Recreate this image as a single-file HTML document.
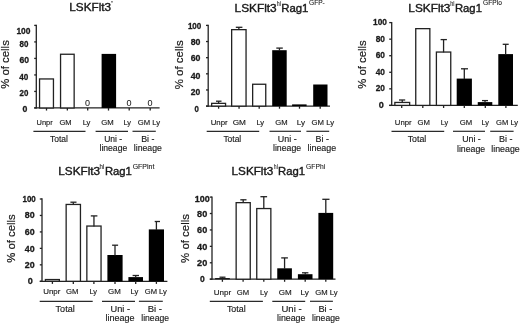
<!DOCTYPE html>
<html><head><meta charset="utf-8"><title>Figure</title>
<style>
html,body{margin:0;padding:0;background:#fff;}
body{width:520px;height:323px;overflow:hidden;}
svg{display:block;font-family:"Liberation Sans", sans-serif;}
svg{will-change:transform;}
</style></head>
<body>
<svg width="520" height="323" viewBox="0 0 520 323">
<rect width="520" height="323" fill="#fff"/>
<text x="90.2" y="11.2" font-size="11" text-anchor="middle" textLength="41.72" lengthAdjust="spacingAndGlyphs" fill="#1a1a1a" stroke="#1a1a1a" stroke-width="0.4">LSKFlt3</text>
<rect x="111.1" y="1.3" width="1.7" height="1.1" fill="#444"/>
<text transform="translate(9.3,64.45) rotate(-90)" x="0" y="0" font-size="11.5" text-anchor="middle" textLength="48.5" lengthAdjust="spacingAndGlyphs" fill="#1a1a1a" stroke="#1a1a1a" stroke-width="0.2">% of cells</text>
<line x1="36.3" y1="24.75" x2="36.3" y2="108.6" stroke="#222" stroke-width="1.3"/>
<line x1="34.2" y1="25.4" x2="36.3" y2="25.4" stroke="#222" stroke-width="1.3"/>
<line x1="34.2" y1="41.91" x2="36.3" y2="41.91" stroke="#222" stroke-width="1.3"/>
<line x1="34.2" y1="58.42" x2="36.3" y2="58.42" stroke="#222" stroke-width="1.3"/>
<line x1="34.2" y1="74.93" x2="36.3" y2="74.93" stroke="#222" stroke-width="1.3"/>
<line x1="34.2" y1="91.44" x2="36.3" y2="91.44" stroke="#222" stroke-width="1.3"/>
<line x1="34.2" y1="107.95" x2="36.3" y2="107.95" stroke="#222" stroke-width="1.3"/>
<text x="23.48" y="34" font-size="9" font-weight="bold" text-anchor="middle" textLength="14.1" lengthAdjust="spacingAndGlyphs" fill="#1a1a1a" stroke="#1a1a1a" stroke-width="0.3">100</text>
<text x="23.9" y="46.8" font-size="9" font-weight="bold" text-anchor="middle" textLength="8.85" lengthAdjust="spacingAndGlyphs" fill="#1a1a1a" stroke="#1a1a1a" stroke-width="0.3">80</text>
<text x="24.3" y="63.4" font-size="9" font-weight="bold" text-anchor="middle" textLength="9.55" lengthAdjust="spacingAndGlyphs" fill="#1a1a1a" stroke="#1a1a1a" stroke-width="0.3">60</text>
<text x="23.8" y="79.9" font-size="9" font-weight="bold" text-anchor="middle" textLength="9.05" lengthAdjust="spacingAndGlyphs" fill="#1a1a1a" stroke="#1a1a1a" stroke-width="0.3">40</text>
<text x="23.93" y="95.5" font-size="9" font-weight="bold" text-anchor="middle" textLength="8.8" lengthAdjust="spacingAndGlyphs" fill="#1a1a1a" stroke="#1a1a1a" stroke-width="0.3">20</text>
<text x="24.9" y="112.2" font-size="9" font-weight="bold" text-anchor="middle" textLength="4.85" lengthAdjust="spacingAndGlyphs" fill="#1a1a1a" stroke="#1a1a1a" stroke-width="0.3">0</text>
<line x1="34.2" y1="107.95" x2="159.6" y2="107.95" stroke="#222" stroke-width="1.3"/>
<rect x="39.55" y="78.95" width="13.9" height="29" fill="#fff" stroke="#222" stroke-width="1.3"/>
<rect x="60.55" y="54.25" width="13.6" height="53.7" fill="#fff" stroke="#222" stroke-width="1.3"/>
<rect x="101.6" y="53.9" width="14.5" height="54.05" fill="#000"/>
<line x1="46.5" y1="107.95" x2="46.5" y2="110.55" stroke="#222" stroke-width="1.3"/>
<line x1="67.35" y1="107.95" x2="67.35" y2="110.55" stroke="#222" stroke-width="1.3"/>
<line x1="87.7" y1="107.95" x2="87.7" y2="110.55" stroke="#222" stroke-width="1.3"/>
<line x1="108.5" y1="107.95" x2="108.5" y2="110.55" stroke="#222" stroke-width="1.3"/>
<line x1="129.2" y1="107.95" x2="129.2" y2="110.55" stroke="#222" stroke-width="1.3"/>
<line x1="150.2" y1="107.95" x2="150.2" y2="110.55" stroke="#222" stroke-width="1.3"/>
<text x="87.45" y="106" font-size="8.5" text-anchor="middle" textLength="5.02" lengthAdjust="spacingAndGlyphs" fill="#1a1a1a" stroke="#1a1a1a" stroke-width="0.05">0</text>
<text x="129" y="106" font-size="8.5" text-anchor="middle" textLength="5.02" lengthAdjust="spacingAndGlyphs" fill="#1a1a1a" stroke="#1a1a1a" stroke-width="0.05">0</text>
<text x="150" y="106" font-size="8.5" text-anchor="middle" textLength="5.02" lengthAdjust="spacingAndGlyphs" fill="#1a1a1a" stroke="#1a1a1a" stroke-width="0.05">0</text>
<text x="44.65" y="124.6" font-size="8" text-anchor="middle" textLength="16.14" lengthAdjust="spacingAndGlyphs" fill="#1a1a1a" stroke="#1a1a1a" stroke-width="0.15">Unpr</text>
<text x="65.55" y="124.6" font-size="8" text-anchor="middle" textLength="12.14" lengthAdjust="spacingAndGlyphs" fill="#1a1a1a" stroke="#1a1a1a" stroke-width="0.15">GM</text>
<text x="86.55" y="124.6" font-size="8" text-anchor="middle" textLength="7.74" lengthAdjust="spacingAndGlyphs" fill="#1a1a1a" stroke="#1a1a1a" stroke-width="0.15">Ly</text>
<text x="107.5" y="124.6" font-size="8" text-anchor="middle" textLength="12.44" lengthAdjust="spacingAndGlyphs" fill="#1a1a1a" stroke="#1a1a1a" stroke-width="0.15">GM</text>
<text x="127.15" y="124.6" font-size="8" text-anchor="middle" textLength="7.54" lengthAdjust="spacingAndGlyphs" fill="#1a1a1a" stroke="#1a1a1a" stroke-width="0.15">Ly</text>
<text x="148.85" y="124.6" font-size="8" text-anchor="middle" textLength="22.34" lengthAdjust="spacingAndGlyphs" fill="#1a1a1a" stroke="#1a1a1a" stroke-width="0.15">GM Ly</text>
<line x1="33.4" y1="131.3" x2="85.5" y2="131.3" stroke="#2a2a2a" stroke-width="1.2"/>
<line x1="95.6" y1="131.3" x2="128" y2="131.3" stroke="#2a2a2a" stroke-width="1.2"/>
<line x1="132.5" y1="131.3" x2="155.8" y2="131.3" stroke="#2a2a2a" stroke-width="1.2"/>
<text x="58.95" y="142" font-size="9" text-anchor="middle" textLength="17.95" lengthAdjust="spacingAndGlyphs" fill="#1a1a1a" stroke="#1a1a1a" stroke-width="0.15">Total</text>
<text x="113.15" y="142" font-size="9" text-anchor="middle" textLength="17.95" lengthAdjust="spacingAndGlyphs" fill="#1a1a1a" stroke="#1a1a1a" stroke-width="0.15">Uni -</text>
<text x="113.35" y="151.4" font-size="9" text-anchor="middle" textLength="27.75" lengthAdjust="spacingAndGlyphs" fill="#1a1a1a" stroke="#1a1a1a" stroke-width="0.15">lineage</text>
<text x="147.8" y="142" font-size="9" text-anchor="middle" textLength="13.25" lengthAdjust="spacingAndGlyphs" fill="#1a1a1a" stroke="#1a1a1a" stroke-width="0.15">Bi -</text>
<text x="147.8" y="151.4" font-size="9" text-anchor="middle" textLength="28.05" lengthAdjust="spacingAndGlyphs" fill="#1a1a1a" stroke="#1a1a1a" stroke-width="0.15">lineage</text>
<text x="255.62" y="11.5" font-size="11" text-anchor="middle" textLength="42.07" lengthAdjust="spacingAndGlyphs" fill="#1a1a1a" stroke="#1a1a1a" stroke-width="0.4">LSKFlt3</text>
<text x="278.93" y="6.2" font-size="6.5" text-anchor="middle" textLength="4.13" lengthAdjust="spacingAndGlyphs" fill="#1a1a1a" stroke="#1a1a1a" stroke-width="0.1">hi</text>
<text x="294.82" y="11.5" font-size="11" text-anchor="middle" textLength="27.17" lengthAdjust="spacingAndGlyphs" fill="#1a1a1a" stroke="#1a1a1a" stroke-width="0.4">Rag1</text>
<text x="316.9" y="4.9" font-size="6.5" text-anchor="middle" textLength="15.78" lengthAdjust="spacingAndGlyphs" fill="#1a1a1a" stroke="#1a1a1a" stroke-width="0.1">GFP-</text>
<text transform="translate(182.5,64.8) rotate(-90)" x="0" y="0" font-size="11.5" text-anchor="middle" textLength="49" lengthAdjust="spacingAndGlyphs" fill="#1a1a1a" stroke="#1a1a1a" stroke-width="0.2">% of cells</text>
<line x1="208.2" y1="24.75" x2="208.2" y2="106.75" stroke="#222" stroke-width="1.3"/>
<line x1="206" y1="25.4" x2="208.2" y2="25.4" stroke="#222" stroke-width="1.3"/>
<line x1="206" y1="41.54" x2="208.2" y2="41.54" stroke="#222" stroke-width="1.3"/>
<line x1="206" y1="57.68" x2="208.2" y2="57.68" stroke="#222" stroke-width="1.3"/>
<line x1="206" y1="73.82" x2="208.2" y2="73.82" stroke="#222" stroke-width="1.3"/>
<line x1="206" y1="89.96" x2="208.2" y2="89.96" stroke="#222" stroke-width="1.3"/>
<line x1="206" y1="106.1" x2="208.2" y2="106.1" stroke="#222" stroke-width="1.3"/>
<text x="194.6" y="28.5" font-size="9" font-weight="bold" text-anchor="middle" textLength="13.45" lengthAdjust="spacingAndGlyphs" fill="#1a1a1a" stroke="#1a1a1a" stroke-width="0.3">100</text>
<text x="195.55" y="45.1" font-size="9" font-weight="bold" text-anchor="middle" textLength="9.75" lengthAdjust="spacingAndGlyphs" fill="#1a1a1a" stroke="#1a1a1a" stroke-width="0.3">80</text>
<text x="195.55" y="61" font-size="9" font-weight="bold" text-anchor="middle" textLength="9.75" lengthAdjust="spacingAndGlyphs" fill="#1a1a1a" stroke="#1a1a1a" stroke-width="0.3">60</text>
<text x="195.55" y="78.7" font-size="9" font-weight="bold" text-anchor="middle" textLength="9.75" lengthAdjust="spacingAndGlyphs" fill="#1a1a1a" stroke="#1a1a1a" stroke-width="0.3">40</text>
<text x="195.5" y="95.3" font-size="9" font-weight="bold" text-anchor="middle" textLength="9.45" lengthAdjust="spacingAndGlyphs" fill="#1a1a1a" stroke="#1a1a1a" stroke-width="0.3">20</text>
<text x="196.55" y="111.5" font-size="9" font-weight="bold" text-anchor="middle" textLength="4.35" lengthAdjust="spacingAndGlyphs" fill="#1a1a1a" stroke="#1a1a1a" stroke-width="0.3">0</text>
<line x1="206" y1="106.1" x2="330" y2="106.1" stroke="#222" stroke-width="1.3"/>
<rect x="211.65" y="103.35" width="13.9" height="2.75" fill="#fff" stroke="#222" stroke-width="1.3"/>
<line x1="218.6" y1="101.2" x2="218.6" y2="103.7" stroke="#222" stroke-width="1.3"/>
<line x1="216" y1="101.2" x2="221.5" y2="101.2" stroke="#222" stroke-width="1.3"/>
<rect x="231.65" y="29.65" width="14.4" height="76.45" fill="#fff" stroke="#222" stroke-width="1.3"/>
<line x1="238.85" y1="27.3" x2="238.85" y2="30" stroke="#222" stroke-width="1.3"/>
<line x1="235.8" y1="27.3" x2="242.4" y2="27.3" stroke="#222" stroke-width="1.3"/>
<rect x="252.65" y="84.25" width="13.1" height="21.85" fill="#fff" stroke="#222" stroke-width="1.3"/>
<rect x="272.2" y="50.2" width="14.5" height="55.9" fill="#000"/>
<line x1="279.45" y1="48.1" x2="279.45" y2="50.7" stroke="#222" stroke-width="1.3"/>
<line x1="276.3" y1="48.1" x2="282.8" y2="48.1" stroke="#222" stroke-width="1.3"/>
<rect x="292.1" y="104.4" width="14.5" height="1.7" fill="#000"/>
<rect x="313.2" y="84.5" width="14.3" height="21.6" fill="#000"/>
<line x1="218.6" y1="106.1" x2="218.6" y2="108.7" stroke="#222" stroke-width="1.3"/>
<line x1="239.05" y1="106.1" x2="239.05" y2="108.7" stroke="#222" stroke-width="1.3"/>
<line x1="259.2" y1="106.1" x2="259.2" y2="108.7" stroke="#222" stroke-width="1.3"/>
<line x1="279.5" y1="106.1" x2="279.5" y2="108.7" stroke="#222" stroke-width="1.3"/>
<line x1="299.5" y1="106.1" x2="299.5" y2="108.7" stroke="#222" stroke-width="1.3"/>
<line x1="320.2" y1="106.1" x2="320.2" y2="108.7" stroke="#222" stroke-width="1.3"/>
<text x="219.15" y="124.9" font-size="8" text-anchor="middle" textLength="16.94" lengthAdjust="spacingAndGlyphs" fill="#1a1a1a" stroke="#1a1a1a" stroke-width="0.15">Unpr</text>
<text x="239.3" y="124.9" font-size="8" text-anchor="middle" textLength="13.24" lengthAdjust="spacingAndGlyphs" fill="#1a1a1a" stroke="#1a1a1a" stroke-width="0.15">GM</text>
<text x="260.25" y="124.9" font-size="8" text-anchor="middle" textLength="7.74" lengthAdjust="spacingAndGlyphs" fill="#1a1a1a" stroke="#1a1a1a" stroke-width="0.15">Ly</text>
<text x="281.45" y="124.9" font-size="8" text-anchor="middle" textLength="12.34" lengthAdjust="spacingAndGlyphs" fill="#1a1a1a" stroke="#1a1a1a" stroke-width="0.15">GM</text>
<text x="301" y="124.9" font-size="8" text-anchor="middle" textLength="8.24" lengthAdjust="spacingAndGlyphs" fill="#1a1a1a" stroke="#1a1a1a" stroke-width="0.15">Ly</text>
<text x="322.85" y="124.9" font-size="8" text-anchor="middle" textLength="22.54" lengthAdjust="spacingAndGlyphs" fill="#1a1a1a" stroke="#1a1a1a" stroke-width="0.15">GM Ly</text>
<line x1="206.7" y1="131.3" x2="259.2" y2="131.3" stroke="#2a2a2a" stroke-width="1.2"/>
<line x1="269.5" y1="131.3" x2="301" y2="131.3" stroke="#2a2a2a" stroke-width="1.2"/>
<line x1="306.4" y1="131.3" x2="329.2" y2="131.3" stroke="#2a2a2a" stroke-width="1.2"/>
<text x="232.3" y="141.8" font-size="9" text-anchor="middle" textLength="17.85" lengthAdjust="spacingAndGlyphs" fill="#1a1a1a" stroke="#1a1a1a" stroke-width="0.15">Total</text>
<text x="287.2" y="141.8" font-size="9" text-anchor="middle" textLength="18.85" lengthAdjust="spacingAndGlyphs" fill="#1a1a1a" stroke="#1a1a1a" stroke-width="0.15">Uni -</text>
<text x="287.1" y="151.2" font-size="9" text-anchor="middle" textLength="28.25" lengthAdjust="spacingAndGlyphs" fill="#1a1a1a" stroke="#1a1a1a" stroke-width="0.15">lineage</text>
<text x="322.25" y="141.8" font-size="9" text-anchor="middle" textLength="13.35" lengthAdjust="spacingAndGlyphs" fill="#1a1a1a" stroke="#1a1a1a" stroke-width="0.15">Bi -</text>
<text x="321.85" y="151.2" font-size="9" text-anchor="middle" textLength="28.75" lengthAdjust="spacingAndGlyphs" fill="#1a1a1a" stroke="#1a1a1a" stroke-width="0.15">lineage</text>
<text x="429.38" y="11.5" font-size="11" text-anchor="middle" textLength="42.07" lengthAdjust="spacingAndGlyphs" fill="#1a1a1a" stroke="#1a1a1a" stroke-width="0.4">LSKFlt3</text>
<text x="452.3" y="5.5" font-size="6.5" text-anchor="middle" textLength="4.18" lengthAdjust="spacingAndGlyphs" fill="#1a1a1a" stroke="#1a1a1a" stroke-width="0.1">hi</text>
<text x="468.43" y="11.5" font-size="11" text-anchor="middle" textLength="26.97" lengthAdjust="spacingAndGlyphs" fill="#1a1a1a" stroke="#1a1a1a" stroke-width="0.4">Rag1</text>
<text x="492.5" y="5" font-size="6.5" text-anchor="middle" textLength="18.78" lengthAdjust="spacingAndGlyphs" fill="#1a1a1a" stroke="#1a1a1a" stroke-width="0.1">GFPlo</text>
<text transform="translate(366.1,64.55) rotate(-90)" x="0" y="0" font-size="11.5" text-anchor="middle" textLength="48.5" lengthAdjust="spacingAndGlyphs" fill="#1a1a1a" stroke="#1a1a1a" stroke-width="0.2">% of cells</text>
<line x1="391.7" y1="21.95" x2="391.7" y2="106.05" stroke="#222" stroke-width="1.3"/>
<line x1="389.2" y1="22.6" x2="391.7" y2="22.6" stroke="#222" stroke-width="1.3"/>
<line x1="389.2" y1="39.16" x2="391.7" y2="39.16" stroke="#222" stroke-width="1.3"/>
<line x1="389.2" y1="55.72" x2="391.7" y2="55.72" stroke="#222" stroke-width="1.3"/>
<line x1="389.2" y1="72.28" x2="391.7" y2="72.28" stroke="#222" stroke-width="1.3"/>
<line x1="389.2" y1="88.84" x2="391.7" y2="88.84" stroke="#222" stroke-width="1.3"/>
<line x1="389.2" y1="105.4" x2="391.7" y2="105.4" stroke="#222" stroke-width="1.3"/>
<text x="380" y="25.2" font-size="9" font-weight="bold" text-anchor="middle" textLength="13.85" lengthAdjust="spacingAndGlyphs" fill="#1a1a1a" stroke="#1a1a1a" stroke-width="0.3">100</text>
<text x="380.3" y="41.9" font-size="9" font-weight="bold" text-anchor="middle" textLength="9.25" lengthAdjust="spacingAndGlyphs" fill="#1a1a1a" stroke="#1a1a1a" stroke-width="0.3">80</text>
<text x="380.3" y="58.2" font-size="9" font-weight="bold" text-anchor="middle" textLength="9.25" lengthAdjust="spacingAndGlyphs" fill="#1a1a1a" stroke="#1a1a1a" stroke-width="0.3">60</text>
<text x="380.3" y="74.6" font-size="9" font-weight="bold" text-anchor="middle" textLength="9.25" lengthAdjust="spacingAndGlyphs" fill="#1a1a1a" stroke="#1a1a1a" stroke-width="0.3">40</text>
<text x="380.3" y="91.4" font-size="9" font-weight="bold" text-anchor="middle" textLength="9.25" lengthAdjust="spacingAndGlyphs" fill="#1a1a1a" stroke="#1a1a1a" stroke-width="0.3">20</text>
<text x="381.3" y="108.1" font-size="9" font-weight="bold" text-anchor="middle" textLength="5.05" lengthAdjust="spacingAndGlyphs" fill="#1a1a1a" stroke="#1a1a1a" stroke-width="0.3">0</text>
<line x1="389.2" y1="105.4" x2="517.8" y2="105.4" stroke="#222" stroke-width="1.3"/>
<rect x="394.85" y="102.45" width="14.8" height="2.95" fill="#fff" stroke="#222" stroke-width="1.3"/>
<line x1="402.25" y1="100" x2="402.25" y2="102.8" stroke="#222" stroke-width="1.3"/>
<line x1="399" y1="100" x2="405.2" y2="100" stroke="#222" stroke-width="1.3"/>
<rect x="415.75" y="28.65" width="14.1" height="76.75" fill="#fff" stroke="#222" stroke-width="1.3"/>
<rect x="436.4" y="52.05" width="14.35" height="53.35" fill="#fff" stroke="#222" stroke-width="1.3"/>
<line x1="443.57" y1="39.6" x2="443.57" y2="52.4" stroke="#222" stroke-width="1.3"/>
<line x1="440.6" y1="39.6" x2="446.9" y2="39.6" stroke="#222" stroke-width="1.3"/>
<rect x="456.7" y="78.6" width="15.2" height="26.8" fill="#000"/>
<line x1="464.3" y1="68.8" x2="464.3" y2="79.1" stroke="#222" stroke-width="1.3"/>
<line x1="461" y1="68.8" x2="468" y2="68.8" stroke="#222" stroke-width="1.3"/>
<rect x="477.75" y="102.1" width="14.55" height="3.3" fill="#000"/>
<line x1="485.02" y1="100.6" x2="485.02" y2="102.6" stroke="#222" stroke-width="1.3"/>
<line x1="482" y1="100.6" x2="488" y2="100.6" stroke="#222" stroke-width="1.3"/>
<rect x="498.3" y="54.1" width="14.7" height="51.3" fill="#000"/>
<line x1="505.65" y1="44.3" x2="505.65" y2="54.6" stroke="#222" stroke-width="1.3"/>
<line x1="502.7" y1="44.3" x2="508.7" y2="44.3" stroke="#222" stroke-width="1.3"/>
<line x1="401.7" y1="105.4" x2="401.7" y2="108" stroke="#222" stroke-width="1.3"/>
<line x1="422.8" y1="105.4" x2="422.8" y2="108" stroke="#222" stroke-width="1.3"/>
<line x1="443.6" y1="105.4" x2="443.6" y2="108" stroke="#222" stroke-width="1.3"/>
<line x1="464.3" y1="105.4" x2="464.3" y2="108" stroke="#222" stroke-width="1.3"/>
<line x1="485.3" y1="105.4" x2="485.3" y2="108" stroke="#222" stroke-width="1.3"/>
<line x1="505.9" y1="105.4" x2="505.9" y2="108" stroke="#222" stroke-width="1.3"/>
<text x="403.2" y="124.8" font-size="8" text-anchor="middle" textLength="16.84" lengthAdjust="spacingAndGlyphs" fill="#1a1a1a" stroke="#1a1a1a" stroke-width="0.15">Unpr</text>
<text x="423.6" y="124.8" font-size="8" text-anchor="middle" textLength="12.44" lengthAdjust="spacingAndGlyphs" fill="#1a1a1a" stroke="#1a1a1a" stroke-width="0.15">GM</text>
<text x="444.35" y="124.8" font-size="8" text-anchor="middle" textLength="7.34" lengthAdjust="spacingAndGlyphs" fill="#1a1a1a" stroke="#1a1a1a" stroke-width="0.15">Ly</text>
<text x="465.9" y="124.8" font-size="8" text-anchor="middle" textLength="12.44" lengthAdjust="spacingAndGlyphs" fill="#1a1a1a" stroke="#1a1a1a" stroke-width="0.15">GM</text>
<text x="485.25" y="124.8" font-size="8" text-anchor="middle" textLength="7.54" lengthAdjust="spacingAndGlyphs" fill="#1a1a1a" stroke="#1a1a1a" stroke-width="0.15">Ly</text>
<text x="507.1" y="124.8" font-size="8" text-anchor="middle" textLength="22.04" lengthAdjust="spacingAndGlyphs" fill="#1a1a1a" stroke="#1a1a1a" stroke-width="0.15">GM Ly</text>
<line x1="391.5" y1="131.3" x2="444.2" y2="131.3" stroke="#2a2a2a" stroke-width="1.2"/>
<line x1="453" y1="131.3" x2="485" y2="131.3" stroke="#2a2a2a" stroke-width="1.2"/>
<line x1="490.2" y1="131.3" x2="513.6" y2="131.3" stroke="#2a2a2a" stroke-width="1.2"/>
<text x="416.95" y="142.1" font-size="9" text-anchor="middle" textLength="18.55" lengthAdjust="spacingAndGlyphs" fill="#1a1a1a" stroke="#1a1a1a" stroke-width="0.15">Total</text>
<text x="471.5" y="142.1" font-size="9" text-anchor="middle" textLength="18.65" lengthAdjust="spacingAndGlyphs" fill="#1a1a1a" stroke="#1a1a1a" stroke-width="0.15">Uni -</text>
<text x="471.1" y="151.5" font-size="9" text-anchor="middle" textLength="28.25" lengthAdjust="spacingAndGlyphs" fill="#1a1a1a" stroke="#1a1a1a" stroke-width="0.15">lineage</text>
<text x="505.8" y="142.1" font-size="9" text-anchor="middle" textLength="13.45" lengthAdjust="spacingAndGlyphs" fill="#1a1a1a" stroke="#1a1a1a" stroke-width="0.15">Bi -</text>
<text x="505.5" y="151.5" font-size="9" text-anchor="middle" textLength="28.45" lengthAdjust="spacingAndGlyphs" fill="#1a1a1a" stroke="#1a1a1a" stroke-width="0.15">lineage</text>
<text x="79.2" y="174.75" font-size="11" text-anchor="middle" textLength="41.72" lengthAdjust="spacingAndGlyphs" fill="#1a1a1a" stroke="#1a1a1a" stroke-width="0.4">LSKFlt3</text>
<text x="102" y="168.9" font-size="6.5" text-anchor="middle" textLength="4.78" lengthAdjust="spacingAndGlyphs" fill="#1a1a1a" stroke="#1a1a1a" stroke-width="0.1">hi</text>
<text x="118.42" y="174.75" font-size="11" text-anchor="middle" textLength="26.97" lengthAdjust="spacingAndGlyphs" fill="#1a1a1a" stroke="#1a1a1a" stroke-width="0.4">Rag1</text>
<text x="143.55" y="168.5" font-size="6.5" text-anchor="middle" textLength="21.68" lengthAdjust="spacingAndGlyphs" fill="#1a1a1a" stroke="#1a1a1a" stroke-width="0.1">GFPint</text>
<text transform="translate(15.1,238.6) rotate(-90)" x="0" y="0" font-size="11.5" text-anchor="middle" textLength="48.4" lengthAdjust="spacingAndGlyphs" fill="#1a1a1a" stroke="#1a1a1a" stroke-width="0.2">% of cells</text>
<line x1="42" y1="198.35" x2="42" y2="281.95" stroke="#222" stroke-width="1.3"/>
<line x1="39.8" y1="199" x2="42" y2="199" stroke="#222" stroke-width="1.3"/>
<line x1="39.8" y1="215.46" x2="42" y2="215.46" stroke="#222" stroke-width="1.3"/>
<line x1="39.8" y1="231.92" x2="42" y2="231.92" stroke="#222" stroke-width="1.3"/>
<line x1="39.8" y1="248.38" x2="42" y2="248.38" stroke="#222" stroke-width="1.3"/>
<line x1="39.8" y1="264.84" x2="42" y2="264.84" stroke="#222" stroke-width="1.3"/>
<line x1="39.8" y1="281.3" x2="42" y2="281.3" stroke="#222" stroke-width="1.3"/>
<text x="29.15" y="201.7" font-size="9" font-weight="bold" text-anchor="middle" textLength="13.35" lengthAdjust="spacingAndGlyphs" fill="#1a1a1a" stroke="#1a1a1a" stroke-width="0.3">100</text>
<text x="29.7" y="218.2" font-size="9" font-weight="bold" text-anchor="middle" textLength="9.85" lengthAdjust="spacingAndGlyphs" fill="#1a1a1a" stroke="#1a1a1a" stroke-width="0.3">80</text>
<text x="29.7" y="234.7" font-size="9" font-weight="bold" text-anchor="middle" textLength="9.85" lengthAdjust="spacingAndGlyphs" fill="#1a1a1a" stroke="#1a1a1a" stroke-width="0.3">60</text>
<text x="29.7" y="251.7" font-size="9" font-weight="bold" text-anchor="middle" textLength="9.85" lengthAdjust="spacingAndGlyphs" fill="#1a1a1a" stroke="#1a1a1a" stroke-width="0.3">40</text>
<text x="29.7" y="267.9" font-size="9" font-weight="bold" text-anchor="middle" textLength="9.85" lengthAdjust="spacingAndGlyphs" fill="#1a1a1a" stroke="#1a1a1a" stroke-width="0.3">20</text>
<text x="30.2" y="284.1" font-size="9" font-weight="bold" text-anchor="middle" textLength="5.05" lengthAdjust="spacingAndGlyphs" fill="#1a1a1a" stroke="#1a1a1a" stroke-width="0.3">0</text>
<line x1="39.8" y1="281.3" x2="167.4" y2="281.3" stroke="#222" stroke-width="1.3"/>
<rect x="45.4" y="279.55" width="13.95" height="1.75" fill="#fff" stroke="#222" stroke-width="1.3"/>
<rect x="66.15" y="204.45" width="14.3" height="76.85" fill="#fff" stroke="#222" stroke-width="1.3"/>
<line x1="73.3" y1="202.2" x2="73.3" y2="204.8" stroke="#222" stroke-width="1.3"/>
<line x1="70.4" y1="202.2" x2="76.5" y2="202.2" stroke="#222" stroke-width="1.3"/>
<rect x="86.85" y="226.05" width="14.2" height="55.25" fill="#fff" stroke="#222" stroke-width="1.3"/>
<line x1="93.95" y1="215.9" x2="93.95" y2="226.4" stroke="#222" stroke-width="1.3"/>
<line x1="90.8" y1="215.9" x2="97.4" y2="215.9" stroke="#222" stroke-width="1.3"/>
<rect x="107.4" y="255" width="15.2" height="26.3" fill="#000"/>
<line x1="115" y1="245.2" x2="115" y2="255.5" stroke="#222" stroke-width="1.3"/>
<line x1="112.1" y1="245.2" x2="118.1" y2="245.2" stroke="#222" stroke-width="1.3"/>
<rect x="128.4" y="277.1" width="14.6" height="4.2" fill="#000"/>
<line x1="135.7" y1="275.5" x2="135.7" y2="277.6" stroke="#222" stroke-width="1.3"/>
<line x1="132.6" y1="275.5" x2="139" y2="275.5" stroke="#222" stroke-width="1.3"/>
<rect x="148.8" y="229.4" width="15.2" height="51.9" fill="#000"/>
<line x1="156.4" y1="221.5" x2="156.4" y2="229.9" stroke="#222" stroke-width="1.3"/>
<line x1="154.7" y1="221.5" x2="160" y2="221.5" stroke="#222" stroke-width="1.3"/>
<line x1="52.4" y1="281.3" x2="52.4" y2="283.9" stroke="#222" stroke-width="1.3"/>
<line x1="73.3" y1="281.3" x2="73.3" y2="283.9" stroke="#222" stroke-width="1.3"/>
<line x1="93.9" y1="281.3" x2="93.9" y2="283.9" stroke="#222" stroke-width="1.3"/>
<line x1="115" y1="281.3" x2="115" y2="283.9" stroke="#222" stroke-width="1.3"/>
<line x1="135.7" y1="281.3" x2="135.7" y2="283.9" stroke="#222" stroke-width="1.3"/>
<line x1="156.4" y1="281.3" x2="156.4" y2="283.9" stroke="#222" stroke-width="1.3"/>
<text x="51.75" y="294.4" font-size="8" text-anchor="middle" textLength="17.14" lengthAdjust="spacingAndGlyphs" fill="#1a1a1a" stroke="#1a1a1a" stroke-width="0.15">Unpr</text>
<text x="72.3" y="294.4" font-size="8" text-anchor="middle" textLength="12.44" lengthAdjust="spacingAndGlyphs" fill="#1a1a1a" stroke="#1a1a1a" stroke-width="0.15">GM</text>
<text x="93.15" y="294.4" font-size="8" text-anchor="middle" textLength="7.54" lengthAdjust="spacingAndGlyphs" fill="#1a1a1a" stroke="#1a1a1a" stroke-width="0.15">Ly</text>
<text x="114.45" y="294.4" font-size="8" text-anchor="middle" textLength="12.74" lengthAdjust="spacingAndGlyphs" fill="#1a1a1a" stroke="#1a1a1a" stroke-width="0.15">GM</text>
<text x="134.35" y="294.4" font-size="8" text-anchor="middle" textLength="7.74" lengthAdjust="spacingAndGlyphs" fill="#1a1a1a" stroke="#1a1a1a" stroke-width="0.15">Ly</text>
<text x="155.8" y="294.4" font-size="8" text-anchor="middle" textLength="22.04" lengthAdjust="spacingAndGlyphs" fill="#1a1a1a" stroke="#1a1a1a" stroke-width="0.15">GM Ly</text>
<line x1="39.7" y1="301.3" x2="92.7" y2="301.3" stroke="#2a2a2a" stroke-width="1.2"/>
<line x1="102" y1="301.3" x2="135" y2="301.3" stroke="#2a2a2a" stroke-width="1.2"/>
<line x1="138.9" y1="301.3" x2="162.8" y2="301.3" stroke="#2a2a2a" stroke-width="1.2"/>
<text x="65.15" y="311.5" font-size="9" text-anchor="middle" textLength="19.15" lengthAdjust="spacingAndGlyphs" fill="#1a1a1a" stroke="#1a1a1a" stroke-width="0.15">Total</text>
<text x="120.3" y="311.5" font-size="9" text-anchor="middle" textLength="19.45" lengthAdjust="spacingAndGlyphs" fill="#1a1a1a" stroke="#1a1a1a" stroke-width="0.15">Uni -</text>
<text x="119.9" y="321" font-size="9" text-anchor="middle" textLength="29.05" lengthAdjust="spacingAndGlyphs" fill="#1a1a1a" stroke="#1a1a1a" stroke-width="0.15">lineage</text>
<text x="154.9" y="311.5" font-size="9" text-anchor="middle" textLength="14.25" lengthAdjust="spacingAndGlyphs" fill="#1a1a1a" stroke="#1a1a1a" stroke-width="0.15">Bi -</text>
<text x="155.15" y="321" font-size="9" text-anchor="middle" textLength="27.75" lengthAdjust="spacingAndGlyphs" fill="#1a1a1a" stroke="#1a1a1a" stroke-width="0.15">lineage</text>
<text x="252.38" y="174.6" font-size="11" text-anchor="middle" textLength="41.57" lengthAdjust="spacingAndGlyphs" fill="#1a1a1a" stroke="#1a1a1a" stroke-width="0.4">LSKFlt3</text>
<text x="275.8" y="168.6" font-size="6.5" text-anchor="middle" textLength="3.98" lengthAdjust="spacingAndGlyphs" fill="#1a1a1a" stroke="#1a1a1a" stroke-width="0.1">hi</text>
<text x="291.57" y="174.6" font-size="11" text-anchor="middle" textLength="26.97" lengthAdjust="spacingAndGlyphs" fill="#1a1a1a" stroke="#1a1a1a" stroke-width="0.4">Rag1</text>
<text x="315.62" y="168.7" font-size="6.5" text-anchor="middle" textLength="19.03" lengthAdjust="spacingAndGlyphs" fill="#1a1a1a" stroke="#1a1a1a" stroke-width="0.1">GFPhi</text>
<text transform="translate(189.1,238.5) rotate(-90)" x="0" y="0" font-size="11.5" text-anchor="middle" textLength="48.8" lengthAdjust="spacingAndGlyphs" fill="#1a1a1a" stroke="#1a1a1a" stroke-width="0.2">% of cells</text>
<line x1="212" y1="196.45" x2="212" y2="279.85" stroke="#222" stroke-width="1.3"/>
<line x1="209.8" y1="197.1" x2="212" y2="197.1" stroke="#222" stroke-width="1.3"/>
<line x1="209.8" y1="213.52" x2="212" y2="213.52" stroke="#222" stroke-width="1.3"/>
<line x1="209.8" y1="229.94" x2="212" y2="229.94" stroke="#222" stroke-width="1.3"/>
<line x1="209.8" y1="246.36" x2="212" y2="246.36" stroke="#222" stroke-width="1.3"/>
<line x1="209.8" y1="262.78" x2="212" y2="262.78" stroke="#222" stroke-width="1.3"/>
<line x1="209.8" y1="279.2" x2="212" y2="279.2" stroke="#222" stroke-width="1.3"/>
<text x="202.15" y="201.6" font-size="9" font-weight="bold" text-anchor="middle" textLength="14.95" lengthAdjust="spacingAndGlyphs" fill="#1a1a1a" stroke="#1a1a1a" stroke-width="0.3">100</text>
<text x="202.15" y="217.4" font-size="9" font-weight="bold" text-anchor="middle" textLength="10.15" lengthAdjust="spacingAndGlyphs" fill="#1a1a1a" stroke="#1a1a1a" stroke-width="0.3">80</text>
<text x="202.15" y="233.2" font-size="9" font-weight="bold" text-anchor="middle" textLength="10.15" lengthAdjust="spacingAndGlyphs" fill="#1a1a1a" stroke="#1a1a1a" stroke-width="0.3">60</text>
<text x="202.15" y="249.7" font-size="9" font-weight="bold" text-anchor="middle" textLength="10.15" lengthAdjust="spacingAndGlyphs" fill="#1a1a1a" stroke="#1a1a1a" stroke-width="0.3">40</text>
<text x="202.15" y="266.2" font-size="9" font-weight="bold" text-anchor="middle" textLength="10.15" lengthAdjust="spacingAndGlyphs" fill="#1a1a1a" stroke="#1a1a1a" stroke-width="0.3">20</text>
<text x="202.25" y="282.2" font-size="9" font-weight="bold" text-anchor="middle" textLength="4.75" lengthAdjust="spacingAndGlyphs" fill="#1a1a1a" stroke="#1a1a1a" stroke-width="0.3">0</text>
<line x1="209.8" y1="279.2" x2="335.5" y2="279.2" stroke="#222" stroke-width="1.3"/>
<rect x="215.1" y="278.2" width="14.7" height="1" fill="#000"/>
<line x1="222.45" y1="277.2" x2="222.45" y2="278.7" stroke="#222" stroke-width="1.3"/>
<line x1="219.5" y1="277.2" x2="225.5" y2="277.2" stroke="#222" stroke-width="1.3"/>
<rect x="236.15" y="202.65" width="14.1" height="76.55" fill="#fff" stroke="#222" stroke-width="1.3"/>
<line x1="243.2" y1="199.8" x2="243.2" y2="203" stroke="#222" stroke-width="1.3"/>
<line x1="240.3" y1="199.8" x2="246.5" y2="199.8" stroke="#222" stroke-width="1.3"/>
<rect x="256.75" y="208.55" width="14.1" height="70.65" fill="#fff" stroke="#222" stroke-width="1.3"/>
<line x1="263.8" y1="196.7" x2="263.8" y2="208.9" stroke="#222" stroke-width="1.3"/>
<line x1="260.4" y1="196.7" x2="267.1" y2="196.7" stroke="#222" stroke-width="1.3"/>
<rect x="277.25" y="268.3" width="14.65" height="10.9" fill="#000"/>
<line x1="284.57" y1="257.9" x2="284.57" y2="268.8" stroke="#222" stroke-width="1.3"/>
<line x1="281.2" y1="257.9" x2="287.9" y2="257.9" stroke="#222" stroke-width="1.3"/>
<rect x="297.9" y="274.2" width="14.6" height="5" fill="#000"/>
<line x1="305.2" y1="272.8" x2="305.2" y2="274.7" stroke="#222" stroke-width="1.3"/>
<line x1="302" y1="272.8" x2="308.4" y2="272.8" stroke="#222" stroke-width="1.3"/>
<rect x="318.4" y="212.9" width="14.8" height="66.3" fill="#000"/>
<line x1="325.8" y1="199.3" x2="325.8" y2="213.4" stroke="#222" stroke-width="1.3"/>
<line x1="322.3" y1="199.3" x2="329.5" y2="199.3" stroke="#222" stroke-width="1.3"/>
<line x1="222.4" y1="279.2" x2="222.4" y2="281.8" stroke="#222" stroke-width="1.3"/>
<line x1="243.1" y1="279.2" x2="243.1" y2="281.8" stroke="#222" stroke-width="1.3"/>
<line x1="263.8" y1="279.2" x2="263.8" y2="281.8" stroke="#222" stroke-width="1.3"/>
<line x1="284.6" y1="279.2" x2="284.6" y2="281.8" stroke="#222" stroke-width="1.3"/>
<line x1="305.2" y1="279.2" x2="305.2" y2="281.8" stroke="#222" stroke-width="1.3"/>
<line x1="325.8" y1="279.2" x2="325.8" y2="281.8" stroke="#222" stroke-width="1.3"/>
<text x="222.5" y="294.6" font-size="8" text-anchor="middle" textLength="17.44" lengthAdjust="spacingAndGlyphs" fill="#1a1a1a" stroke="#1a1a1a" stroke-width="0.15">Unpr</text>
<text x="242.85" y="294.6" font-size="8" text-anchor="middle" textLength="12.34" lengthAdjust="spacingAndGlyphs" fill="#1a1a1a" stroke="#1a1a1a" stroke-width="0.15">GM</text>
<text x="263.95" y="294.6" font-size="8" text-anchor="middle" textLength="7.74" lengthAdjust="spacingAndGlyphs" fill="#1a1a1a" stroke="#1a1a1a" stroke-width="0.15">Ly</text>
<text x="285.35" y="294.6" font-size="8" text-anchor="middle" textLength="12.94" lengthAdjust="spacingAndGlyphs" fill="#1a1a1a" stroke="#1a1a1a" stroke-width="0.15">GM</text>
<text x="304.65" y="294.6" font-size="8" text-anchor="middle" textLength="8.34" lengthAdjust="spacingAndGlyphs" fill="#1a1a1a" stroke="#1a1a1a" stroke-width="0.15">Ly</text>
<text x="326.45" y="294.6" font-size="8" text-anchor="middle" textLength="22.34" lengthAdjust="spacingAndGlyphs" fill="#1a1a1a" stroke="#1a1a1a" stroke-width="0.15">GM Ly</text>
<line x1="209.8" y1="301.3" x2="262.9" y2="301.3" stroke="#2a2a2a" stroke-width="1.2"/>
<line x1="272.3" y1="301.3" x2="305.2" y2="301.3" stroke="#2a2a2a" stroke-width="1.2"/>
<line x1="310" y1="301.3" x2="332.9" y2="301.3" stroke="#2a2a2a" stroke-width="1.2"/>
<text x="236.25" y="311.7" font-size="9" text-anchor="middle" textLength="18.75" lengthAdjust="spacingAndGlyphs" fill="#1a1a1a" stroke="#1a1a1a" stroke-width="0.15">Total</text>
<text x="291.55" y="311.7" font-size="9" text-anchor="middle" textLength="20.15" lengthAdjust="spacingAndGlyphs" fill="#1a1a1a" stroke="#1a1a1a" stroke-width="0.15">Uni -</text>
<text x="291.2" y="321.1" font-size="9" text-anchor="middle" textLength="28.45" lengthAdjust="spacingAndGlyphs" fill="#1a1a1a" stroke="#1a1a1a" stroke-width="0.15">lineage</text>
<text x="325.35" y="311.7" font-size="9" text-anchor="middle" textLength="13.95" lengthAdjust="spacingAndGlyphs" fill="#1a1a1a" stroke="#1a1a1a" stroke-width="0.15">Bi -</text>
<text x="325.9" y="321.1" font-size="9" text-anchor="middle" textLength="27.85" lengthAdjust="spacingAndGlyphs" fill="#1a1a1a" stroke="#1a1a1a" stroke-width="0.15">lineage</text>
</svg>
</body></html>
